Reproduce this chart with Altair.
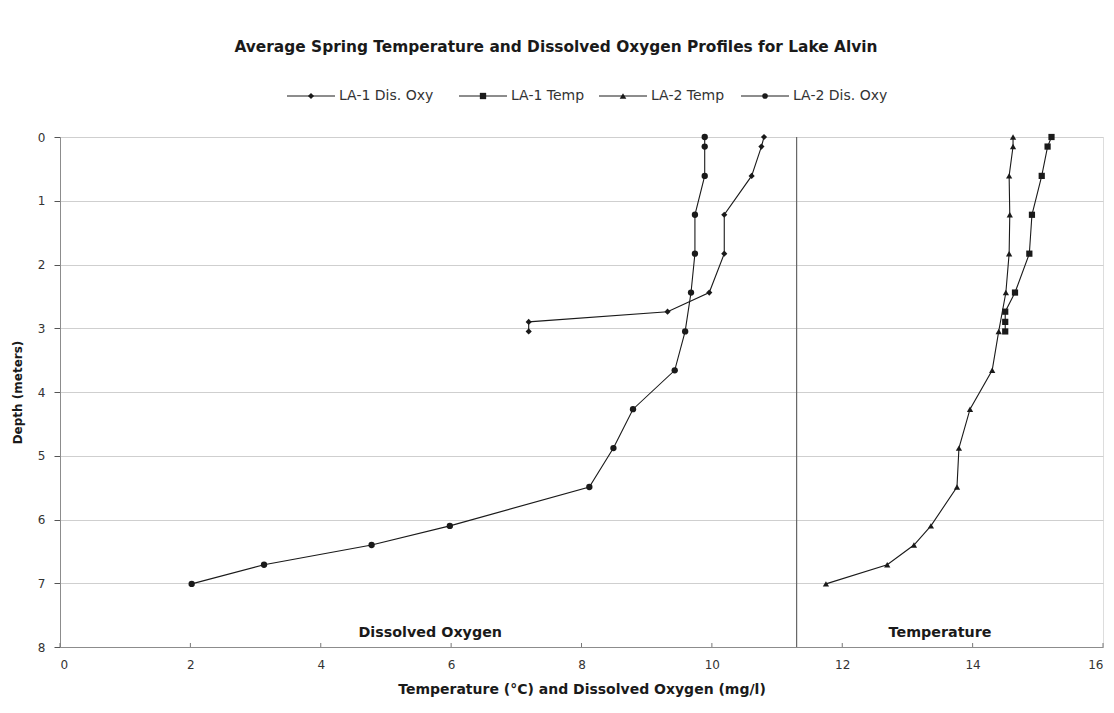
import altair as alt
import pandas as pd

# ---- data ----
series_names = ["LA-1 Dis. Oxy", "LA-1 Temp", "LA-2 Temp", "LA-2 Dis. Oxy"]

la1_depth = [0, 0.15, 0.61, 1.22, 1.83, 2.44, 2.74, 2.90, 3.05]
la1_do = [10.80, 10.76, 10.61, 10.19, 10.19, 9.96, 9.32, 7.19, 7.19]
la1_temp = [15.21, 15.15, 15.06, 14.91, 14.87, 14.65, 14.50, 14.50, 14.50]

la2_depth = [0, 0.15, 0.61, 1.22, 1.83, 2.44, 3.05, 3.66, 4.27, 4.88, 5.49, 6.10, 6.40, 6.71, 7.01]
la2_temp = [14.62, 14.62, 14.56, 14.57, 14.56, 14.51, 14.40, 14.30, 13.96, 13.79, 13.76, 13.36, 13.10, 12.69, 11.75]
la2_do = [9.89, 9.89, 9.89, 9.74, 9.74, 9.68, 9.59, 9.43, 8.79, 8.49, 8.12, 5.98, 4.78, 3.13, 2.02]

divider_x = [11.3]
section_labels = ["Dissolved Oxygen", "Temperature"]
section_label_x = [5.68, 13.5]
section_label_depth = [7.78, 7.78]
x_ticks = [0, 2, 4, 6, 8, 10, 12, 14, 16]
y_ticks = [0, 1, 2, 3, 4, 5, 6, 7, 8]

title_text = "Average Spring Temperature and Dissolved Oxygen Profiles for Lake Alvin"
x_title = "Temperature (°C) and Dissolved Oxygen (mg/l)"
y_title = "Depth (meters)"

# ---- build table ----
rows = []
for d, v in zip(la1_depth, la1_do):
    rows.append({"series": series_names[0], "depth": d, "value": v})
for d, v in zip(la1_depth, la1_temp):
    rows.append({"series": series_names[1], "depth": d, "value": v})
for d, v in zip(la2_depth, la2_temp):
    rows.append({"series": series_names[2], "depth": d, "value": v})
for d, v in zip(la2_depth, la2_do):
    rows.append({"series": series_names[3], "depth": d, "value": v})
df = pd.DataFrame(rows)

W, H = 1043, 510
FONT = "DejaVu Sans"
INK = "#1a1a1a"
shapes = ["diamond", "square", "triangle-up", "circle"]
sizes = [38, 40, 44, 32]

xscale = alt.Scale(domain=[0, 16], nice=False, zero=False)
yscale = alt.Scale(domain=[0, 8], reverse=True, nice=False, zero=False)

x_enc = alt.X("value:Q", scale=xscale,
              axis=alt.Axis(values=x_ticks, format="d", title=x_title, grid=False, ticks=False,
                            domainColor="#8c8c8c", labelFont=FONT, labelFontSize=12,
                            labelColor="#333", labelPadding=12, titleFont=FONT,
                            titleFontSize=14, titleFontWeight="bold", titleColor=INK,
                            titlePadding=12))
y_enc = alt.Y("depth:Q", scale=yscale,
              axis=alt.Axis(values=y_ticks, format="d", title=y_title, grid=True, gridColor="#cfcfcf",
                            tickColor="#555", tickSize=6, domainColor="#8c8c8c",
                            labelFont=FONT, labelFontSize=12, labelColor="#333",
                            labelPadding=9, titleFont=FONT, titleFontSize=12,
                            titleFontWeight="bold", titleColor=INK, titlePadding=13))

base = alt.Chart(df)

lines = base.mark_line(color=INK, strokeWidth=1.1).encode(
    x=x_enc, y=y_enc, detail="series:N", order="depth:Q")

points = base.mark_point(filled=True, color=INK, opacity=1).encode(
    x=alt.X("value:Q", scale=xscale),
    y=alt.Y("depth:Q", scale=yscale),
    shape=alt.Shape("series:N", scale=alt.Scale(domain=series_names, range=shapes), legend=None),
    size=alt.Size("series:N", scale=alt.Scale(domain=series_names, range=sizes), legend=None),
)

divider = alt.Chart(pd.DataFrame({"x": divider_x})).mark_rule(color="#666", strokeWidth=1.2).encode(
    x=alt.X("x:Q", scale=xscale))

tick_df = pd.DataFrame({"x": x_ticks})
xticks = alt.Chart(tick_df).mark_rule(color="#777").encode(
    x=alt.X("x:Q", scale=xscale), y=alt.value(H - 4), y2=alt.value(H))

lab_df = pd.DataFrame({"label": section_labels, "x": section_label_x, "depth": section_label_depth})
section = alt.Chart(lab_df).mark_text(font=FONT, fontSize=14.3, fontWeight="bold", color=INK).encode(
    x=alt.X("x:Q", scale=xscale), y=alt.Y("depth:Q", scale=yscale), text="label:N")

title = alt.Chart(pd.DataFrame({"t": [title_text]})).mark_text(
    font=FONT, fontSize=15.4, fontWeight="bold", color=INK, align="center", baseline="middle"
).encode(x=alt.value(496), y=alt.value(-90), text="t:N")

# manual legend (line + marker + label)
legend_x0 = [227, 399, 539, 681]
legend_y = -41
legend_layers = []
for name, shp, sz, x0 in zip(series_names, shapes, sizes, legend_x0):
    one = alt.Chart(pd.DataFrame({"series": [name]}))
    legend_layers.append(one.mark_rule(color=INK, strokeWidth=1).encode(
        x=alt.value(x0), x2=alt.value(x0 + 48), y=alt.value(legend_y)))
    legend_layers.append(one.mark_point(filled=True, color=INK, opacity=1, shape=shp, size=sz).encode(
        x=alt.value(x0 + 24), y=alt.value(legend_y)))
    legend_layers.append(one.mark_text(font=FONT, fontSize=14, color="#333", align="left",
                                       baseline="middle").encode(
        x=alt.value(x0 + 52), y=alt.value(legend_y), text="series:N"))

chart = alt.layer(divider, lines, points, xticks, section, title, *legend_layers).properties(
    width=W, height=H,
    autosize=alt.AutoSizeParams(type="none"),
    padding={"left": 52, "top": 129, "right": 3, "bottom": 60},
).configure_view(stroke="#8c8c8c", strokeWidth=1).configure(background="white")

chart.save("out.html", embed_options={"renderer": "svg", "actions": False})
